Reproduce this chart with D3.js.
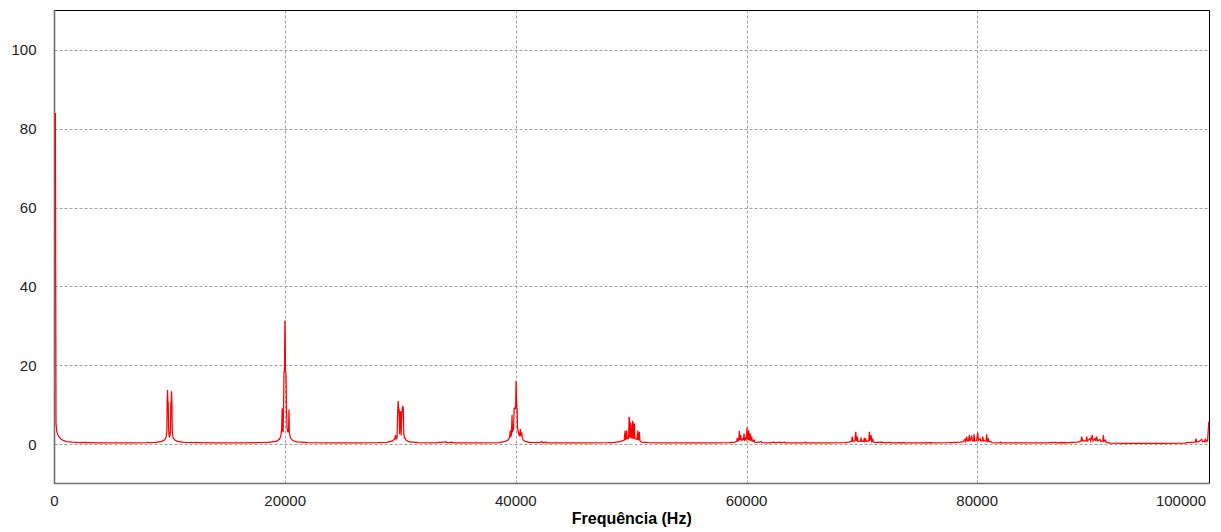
<!DOCTYPE html>
<html>
<head>
<meta charset="utf-8">
<script src="https://cdn.jsdelivr.net/npm/d3@7"></script>
<style>
  html, body { margin: 0; padding: 0; background: #fff; }
  svg { display: block; }
  text { font-family: "Liberation Sans", Arial, sans-serif; }
</style>
</head>
<body>
<svg id="chart" width="1221" height="532"></svg>
<script>
// Axis ticks
const xTicks = [0, 20000, 40000, 60000, 80000, 100000];
const yTicks = [0, 20, 40, 60, 80, 100];
const xTitle = "Frequência (Hz)";

// Spectrum, [frequency (Hz), magnitude], split by band
const lowBand = [
  [80, 84], [100, 49], [130, 5.3], [200, 3.2], [290, 2.3], [400, 1.8], [550, 1.3],
  [750, 0.95], [1050, 0.65], [1500, 0.5], [2200, 0.4], [2800, 0.45], [2850, 0.35],
  [3900, 0.3], [5000, 0.3], [6500, 0.3], [8000, 0.35]
];
const band10k = [
  [8800, 0.45], [9300, 0.7], [9550, 1.1], [9680, 1.8], [9740, 3.2], [9770, 10.5],
  [9800, 13.7], [9830, 10.7], [9860, 10.5], [9890, 4], [9940, 2], [9975, 1.8],
  [10010, 2], [10060, 4], [10090, 10.5], [10120, 10.7], [10150, 13.4], [10180, 10.3],
  [10210, 3.2], [10270, 1.8], [10400, 1.1], [10650, 0.7], [11200, 0.45],
  [12500, 0.35], [14000, 0.3], [16000, 0.3], [17500, 0.35]
];
const band20k = [
  [18500, 0.45], [19200, 0.7], [19500, 1.2], [19620, 2], [19700, 4], [19740, 9.1],
  [19770, 3.5], [19820, 3], [19860, 9], [19900, 18.3], [19940, 18.5], [19975, 31.3],
  [20000, 28], [20030, 18.3], [20070, 18], [20110, 9], [20160, 4], [20240, 3],
  [20300, 4], [20330, 8.8], [20360, 3], [20450, 1.6], [20650, 0.9], [21000, 0.55],
  [22000, 0.35], [24000, 0.3], [26000, 0.3], [28000, 0.35]
];
const band30k = [
  [28800, 0.45], [29300, 0.8], [29500, 1.3], [29560, 2.3], [29620, 1.3], [29700, 1.8],
  [29760, 8.5], [29800, 10.9], [29840, 8.3], [29880, 8.5], [29920, 2.5], [29980, 8.2],
  [30020, 8.2], [30060, 2.2], [30120, 8], [30180, 9.5], [30240, 9.3], [30290, 2.5],
  [30350, 1.5], [30400, 1.5], [30480, 1], [30700, 0.6], [31500, 0.4], [33000, 0.3],
  [34000, 0.55], [34050, 0.3], [34500, 0.5], [34550, 0.3], [37000, 0.3], [38500, 0.4]
];
const band40k = [
  [39000, 0.6], [39300, 1], [39450, 1.6], [39520, 3.5], [39560, 1.8], [39620, 2.5],
  [39670, 7.4], [39710, 3], [39760, 4.6], [39800, 3.5], [39850, 9.1], [39930, 9.2],
  [39980, 9], [40020, 16], [40050, 12], [40080, 9.2], [40110, 9], [40150, 4],
  [40250, 2.5], [40320, 2.2], [40390, 3.8], [40430, 2], [40510, 3], [40560, 1.5],
  [40650, 1], [40800, 0.7], [41200, 0.45], [42000, 0.35], [42300, 0.6], [42350, 0.3],
  [42600, 0.55], [42650, 0.3], [44000, 0.3], [46000, 0.3], [48000, 0.35]
];
const band50k = [
  [48500, 0.4], [49000, 0.6], [49200, 0.8], [49400, 1], [49470, 3.4], [49520, 1.2],
  [49580, 1.3], [49615, 3.5], [49660, 1.4], [49780, 1.5], [49820, 6.9], [49860, 6.5],
  [49890, 1.6], [49940, 5.2], [49980, 5], [50010, 1.6], [50080, 1.6], [50120, 5.9],
  [50160, 5.5], [50190, 1.5], [50240, 1.5], [50275, 5.2], [50320, 1.4], [50500, 1.2],
  [50570, 3.4], [50620, 1.1], [50660, 1.1], [50710, 3.1], [50760, 0.8], [50900, 0.5],
  [51500, 0.35], [53000, 0.3], [55000, 0.3], [57000, 0.3], [58500, 0.35]
];
const band60k = [
  [59000, 0.5], [59150, 0.7], [59205, 1.6], [59250, 0.8], [59330, 0.9], [59378, 3.3],
  [59430, 1], [59500, 2.3], [59550, 1], [59650, 1], [59700, 1.6], [59740, 1],
  [59786, 2.7], [59830, 1.1], [59900, 1.5], [59960, 1.1], [60010, 2], [60046, 4.2],
  [60090, 1.3], [60150, 1.2], [60193, 3.5], [60240, 1.1], [60290, 1], [60332, 2.7],
  [60380, 0.9], [60453, 1.9], [60500, 0.8], [60600, 0.7], [60652, 1.2], [60700, 0.5],
  [61000, 0.45], [61300, 0.6], [61350, 0.35], [62000, 0.3], [62400, 0.5], [62450, 0.3],
  [62900, 0.5], [62950, 0.3], [63300, 0.5], [63350, 0.3], [65000, 0.3], [65100, 0.5],
  [65200, 0.3], [67000, 0.3], [68500, 0.35]
];
const band70k = [
  [68900, 0.5], [69100, 0.7], [69177, 1.9], [69230, 0.7], [69400, 0.8], [69472, 3.1],
  [69530, 0.8], [69611, 1.9], [69660, 0.7], [69850, 0.7], [69932, 1.4], [69990, 0.7],
  [70150, 0.7], [70218, 1.6], [70270, 0.7], [70340, 1.2], [70400, 0.7], [70600, 0.8],
  [70652, 3.1], [70710, 0.8], [70799, 2.3], [70860, 0.7], [70946, 1.2], [71000, 0.5],
  [71300, 0.45], [71800, 0.5], [71850, 0.3], [72500, 0.45], [72550, 0.3], [73700, 0.4],
  [73750, 0.3], [75000, 0.3], [76000, 0.4], [76050, 0.3], [77500, 0.35], [77800, 0.4],
  [78200, 0.45], [78500, 0.5]
];
const band80k = [
  [78800, 0.6], [78948, 1.2], [79000, 0.7], [79095, 1.9], [79150, 0.8], [79250, 0.8],
  [79321, 2.3], [79380, 0.8], [79529, 1.9], [79580, 0.8], [79680, 0.8], [79728, 2.5],
  [79780, 0.8], [79950, 0.9], [80049, 2.9], [80100, 0.9], [80248, 1.4], [80300, 0.8],
  [80420, 0.8], [80482, 1.9], [80540, 0.8], [80770, 0.8], [80829, 2.5], [80880, 0.7],
  [80968, 1.2], [81020, 0.6], [81176, 0.6], [81300, 0.35], [82000, 0.3], [82050, 0.5],
  [82100, 0.3], [83300, 0.3], [83350, 0.45], [83400, 0.3], [86000, 0.3], [86800, 0.45],
  [86850, 0.3], [87600, 0.4], [87650, 0.3], [88300, 0.45], [88700, 0.5]
];
const band90k = [
  [88900, 0.6], [89000, 0.8], [89068, 1.9], [89120, 0.8], [89206, 1.0], [89260, 0.8],
  [89450, 0.8], [89501, 1.9], [89550, 0.8], [89787, 1.4], [89840, 0.8], [89987, 2.3],
  [90040, 0.8], [90221, 1.4], [90270, 0.8], [90368, 1.9], [90420, 0.8], [90654, 1.2],
  [90700, 0.7], [90900, 0.8], [90940, 2.3], [91000, 0.7], [91114, 1.0], [91170, 0.5],
  [91374, 0.35], [91500, 0.25], [93000, 0.2], [96000, 0.2], [98000, 0.25]
];
const band100k = [
  [98200, 0.35], [98500, 0.45], [98900, 0.5], [98980, 1.4], [99030, 0.5], [99200, 0.6],
  [99474, 1.2], [99520, 0.6], [99700, 0.6], [99786, 1.4], [99840, 0.6], [99980, 0.8],
  [100080, 5.7]
];

const spectrum = [].concat(lowBand, band10k, band20k, band30k, band40k, band50k,
  band60k, band70k, band80k, band90k, band100k);

const svg = d3.select("#chart");
const plotLeft = 54.5, plotRight = 1209, plotTop = 10.5, plotBottom = 483.5;

const x = d3.scaleLinear().domain([0, 100100]).range([plotLeft, plotRight]);
const y = d3.scaleLinear().domain([-10, 110]).range([plotBottom, plotTop]);

// Dashed grid
const grid = svg.append("g");
grid.selectAll("line.h").data(yTicks).join("line")
  .attr("x1", plotLeft).attr("x2", plotRight)
  .attr("y1", d => Math.round(y(d)) + 0.5).attr("y2", d => Math.round(y(d)) + 0.5)
  .attr("stroke", "#a0a0a0").attr("stroke-dasharray", "3,2");
grid.selectAll("line.v").data(xTicks.filter(d => d > 0 && d < 100000)).join("line")
  .attr("x1", d => Math.round(x(d)) + 0.5).attr("x2", d => Math.round(x(d)) + 0.5)
  .attr("y1", plotTop).attr("y2", plotBottom)
  .attr("stroke", "#a0a0a0").attr("stroke-dasharray", "3,2");

// Frame: top/right black, left/bottom axes grey
svg.append("line").attr("x1", plotLeft).attr("x2", plotRight + 0.5).attr("y1", plotTop).attr("y2", plotTop)
  .attr("stroke", "#000").attr("stroke-width", 1);
svg.append("line").attr("x1", plotRight + 0.5).attr("x2", plotRight + 0.5).attr("y1", plotTop).attr("y2", plotBottom)
  .attr("stroke", "#000").attr("stroke-width", 1);
svg.append("line").attr("x1", plotLeft).attr("x2", plotLeft).attr("y1", plotTop - 0.5).attr("y2", plotBottom + 0.5)
  .attr("stroke", "#6e6e6e").attr("stroke-width", 1.6);
svg.append("line").attr("x1", plotLeft).attr("x2", plotRight + 0.5).attr("y1", plotBottom).attr("y2", plotBottom)
  .attr("stroke", "#6e6e6e").attr("stroke-width", 1.6);

// Spectrum trace, drawn over the frame
const line = d3.line().x(d => x(d[0])).y(d => y(d[1]));
svg.append("path").datum(spectrum)
  .attr("d", line)
  .attr("fill", "none")
  .attr("stroke", "#ff0000")
  .attr("stroke-width", 1.25)
  .attr("stroke-linejoin", "miter");

// Tick labels
svg.append("g").selectAll("text").data(yTicks).join("text")
  .attr("x", 36.5).attr("y", d => y(d) + 5.5)
  .attr("text-anchor", "end")
  .attr("font-size", 15).attr("fill", "#222")
  .text(d => d);

svg.append("g").selectAll("text").data(xTicks).join("text")
  .attr("x", d => d === 100000 ? plotRight - 3 : x(d))
  .attr("y", 506)
  .attr("text-anchor", d => d === 100000 ? "end" : "middle")
  .attr("font-size", 15).attr("fill", "#222")
  .text(d => d);

// Axis title
svg.append("text")
  .attr("x", (plotLeft + plotRight) / 2).attr("y", 524)
  .attr("text-anchor", "middle")
  .attr("font-size", 16).attr("font-weight", "bold").attr("fill", "#000")
  .text(xTitle);
</script>
</body>
</html>
